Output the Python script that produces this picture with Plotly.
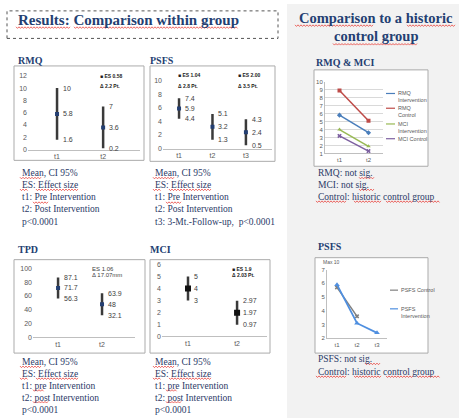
import plotly.graph_objects as go

W, H = 459, 420
def fx(x): return x / W
def fy(y): return 1 - y / H

# ---------------- data ----------------
cats2 = ["t1", "t2"]
cats3 = ["t1", "t2", "t3"]
rmq_mean = [5.8, 3.6]; rmq_lo = [1.6, 0.2]; rmq_hi = [10, 7]
psfs_mean = [5.9, 3.2, 2.4]; psfs_lo = [4.4, 1.3, 0.5]; psfs_hi = [7.4, 5.1, 4.3]
tpd_mean = [71.7, 48]; tpd_lo = [56.3, 32.1]; tpd_hi = [87.1, 63.9]
mci_mean = [4, 1.97]; mci_lo = [3, 0.97]; mci_hi = [5, 2.97]

hist_rmq_int = [5.8, 3.6]
hist_rmq_ctrl = [8.9, 5.1]
hist_mci_int = [4.0, 1.9]
hist_mci_ctrl = [3.2, 1.3]
hist_psfs_ctrl = [5.7, 3.6]
hist_psfs_int = [5.9, 3.1, 2.4]

NAVY = "#243F72"
TXT = "#2B3A67"
TICK = "#595959"
SERIF = "Liberation Serif"
SANS = "Liberation Sans"

fig = go.Figure()
shapes = []
ann = []

def label(x, y, text, size=9.5, color=TXT, bold=False, family=SERIF, anchor="left"):
    t = f"<b>{text}</b>" if bold else text
    ann.append(dict(x=fx(x), y=fy(y), xref="paper", yref="paper", text=t, showarrow=False,
                    xanchor=anchor, yanchor="middle", font=dict(family=family, size=size, color=color)))

def box(x0, y0, x1, y1, fill="white", line="#ABABAB", dash="solid", width=1):
    shapes.append(dict(type="rect", xref="paper", yref="paper", x0=fx(x0), x1=fx(x1), y0=fy(y1), y1=fy(y0),
                       fillcolor=fill, line=dict(color=line, width=width, dash=dash), layer="below"))

def squiggle(x0, x1, y):
    pts = []
    x, k = x0, 0
    while x <= x1:
        pts.append(f"{fx(x):.5f},{fy(y + (0.8 if k % 2 else -0.8)):.5f}")
        x += 1.5
        k += 1
    shapes.append(dict(type="path", xref="paper", yref="paper", path="M" + " L".join(pts),
                       line=dict(color="#E8403A", width=0.8)))

# background panel
box(287, 0, 460, 421, fill="#F2F2F2", line="rgba(0,0,0,0)", width=0)
# chart boxes
box(14, 63, 144, 159)
box(150, 63, 275, 160)
box(14, 260, 145, 355)
box(150, 260, 270, 355)
box(314, 67, 428, 165)
box(315, 258, 428, 355)
# title box
box(7, 7, 278, 35, fill="rgba(0,0,0,0)", line="#555555", dash="dot")

layout_axes = {}
def axes(n, xd, ytop, ybot, xr, yr, dtick, cats, tsize=7, grid=False, yline=False):
    s = "" if n == 1 else str(n)
    layout_axes["xaxis" + s] = dict(domain=[fx(xd[0]), fx(xd[1])], range=xr, anchor="y" + s, type="category",
                                    categoryorder="array", categoryarray=cats, showline=True, linecolor="#BFBFBF",
                                    linewidth=1, ticks="", showgrid=False, zeroline=False,
                                    tickfont=dict(family=SANS, size=tsize, color=TICK), fixedrange=True)
    layout_axes["yaxis" + s] = dict(domain=[fy(ybot), fy(ytop)], range=yr, dtick=dtick, anchor="x" + s,
                                    showline=yline, linecolor="#BFBFBF", ticks="", showgrid=grid,
                                    gridcolor="#D9D9D9", gridwidth=1, zeroline=False,
                                    tickfont=dict(family=SANS, size=tsize, color=TICK), fixedrange=True)

def ci_chart(n, cats, mean, lo, hi, msize=4, mcolor=NAVY):
    s = "" if n == 1 else str(n)
    fig.add_trace(go.Scatter(x=cats, y=mean, mode="markers", xaxis="x" + s, yaxis="y" + s,
                             marker=dict(symbol="square", size=msize, color=mcolor),
                             error_y=dict(type="data", symmetric=False,
                                          array=[h - m for h, m in zip(hi, mean)],
                                          arrayminus=[m - l for m, l in zip(mean, lo)],
                                          color="#3A3A3A", thickness=2.5, width=0),
                             showlegend=False, hoverinfo="skip"))
    for c, m, l, h in zip(cats, mean, lo, hi):
        for v in (h, m, l):
            ann.append(dict(x=c, y=v, xref="x" + s, yref="y" + s, text=f"{v:g}", showarrow=False,
                            xanchor="left", yanchor="middle", xshift=4,
                            font=dict(family=SANS, size=7, color="#404040")))

# Chart 1 RMQ
axes(1, (28, 140), 73, 148, [-0.63, 1.8], [0, 12], 2, cats2)
ci_chart(1, cats2, rmq_mean, rmq_lo, rmq_hi)
# Chart 2 PSFS
axes(2, (163, 272), 78, 147, [-0.48, 2.78], [0, 10], 2, cats3)
ci_chart(2, cats3, psfs_mean, psfs_lo, psfs_hi)
# Chart 3 TPD
axes(3, (33, 135), 269, 339, [-0.57, 1.75], [0, 100], 20, cats2)
ci_chart(3, cats2, tpd_mean, tpd_lo, tpd_hi)
# Chart 4 MCI
axes(4, (162, 267), 265, 338, [-0.53, 1.61], [0, 6], 1, cats2)
ci_chart(4, cats2, mci_mean, mci_lo, mci_hi, msize=6, mcolor="#111111")

# Chart 5 RMQ & MCI vs historic control
axes(5, (325, 383), 79, 152, [-0.5, 1.5], [1, 10], 1, cats2, tsize=6, grid=True, yline=True)
hist_series = [
    ("RMQ Intervention", hist_rmq_int, "#4A7EBB", "diamond"),
    ("RMQ Control", hist_rmq_ctrl, "#BE4B48", "square"),
    ("MCI Intervention", hist_mci_int, "#98B954", "triangle-up"),
    ("MCI Control", hist_mci_ctrl, "#7D60A0", "x"),
]
for name, vals, col, sym in hist_series:
    fig.add_trace(go.Scatter(x=cats2, y=vals, mode="lines+markers", xaxis="x5", yaxis="y5", name=name,
                             line=dict(color=col, width=1.5), marker=dict(symbol=sym, size=4, color=col),
                             showlegend=False, hoverinfo="skip"))
# Chart 6 PSFS vs historic control
axes(6, (327, 387), 270, 340, [-0.5, 2.5], [2, 7], 1, cats3, tsize=6, yline=True)
fig.add_trace(go.Scatter(x=cats3[:2], y=hist_psfs_ctrl, mode="lines+markers", xaxis="x6", yaxis="y6",
                         line=dict(color="#7F7F7F", width=1.5), marker=dict(symbol="x", size=4, color="#7F7F7F"),
                         showlegend=False, hoverinfo="skip"))
fig.add_trace(go.Scatter(x=cats3, y=hist_psfs_int, mode="lines+markers", xaxis="x6", yaxis="y6",
                         line=dict(color="#4F8FE0", width=1.8), marker=dict(symbol="triangle-up", size=5, color="#4F8FE0"),
                         showlegend=False, hoverinfo="skip"))

# manual legends
def leg_line(x0, x1, y, col):
    shapes.append(dict(type="line", xref="paper", yref="paper", x0=fx(x0), x1=fx(x1), y0=fy(y), y1=fy(y),
                       line=dict(color=col, width=1.2)))
leg5 = [("RMQ", "Intervention", 91), ("RMQ", "Control", 106), ("MCI", "Intervention", 122), ("MCI Control", None, 137)]
for (a, b, y), (_, _, col, _) in zip(leg5, hist_series):
    leg_line(386, 395, y, col)
    label(396, y, a, size=5.5, color=TICK, family=SANS)
    if b:
        label(396, y + 7, b, size=5.5, color=TICK, family=SANS)
leg_line(390, 398, 291, "#7F7F7F")
label(399, 291, "PSFS Control", size=5.5, color=TICK, family=SANS)
leg_line(390, 398, 310, "#4F8FE0")
label(399, 310, "PSFS", size=5.5, color=TICK, family=SANS)
label(399, 317, "Intervention", size=5.5, color=TICK, family=SANS)
label(321, 262, "Max 10", size=5, color=TICK, family=SANS)

# ES annotations
label(98, 73, "■ ES 0.58", size=5, color="#222222", bold=True, family=SANS)
label(98, 83, "Δ 2.2 Pt.", size=5, color="#222222", bold=True, family=SANS)
label(176, 72, "■ ES 1.04", size=5, color="#222222", bold=True, family=SANS)
label(176, 83, "Δ 2.8 Pt.", size=5, color="#222222", bold=True, family=SANS)
label(236, 72, "■ ES 2.00", size=5, color="#222222", bold=True, family=SANS)
label(236, 83, "Δ 3.5 Pt.", size=5, color="#222222", bold=True, family=SANS)
label(90, 269, "ES 1.06", size=6, color="#404040", family=SANS)
label(90, 276, "Δ 17.07mm", size=6, color="#404040", family=SANS)
label(230, 269, "■ ES 1.9", size=5, color="#222222", bold=True, family=SANS)
label(230, 276, "Δ 2.03 Pt.", size=5, color="#222222", bold=True, family=SANS)

# titles
label(16, 16, "Results: Comparison within group", size=15, color=NAVY, bold=True)
label(376, 14, "Comparison to a historic", size=14.5, color=NAVY, bold=True, anchor="center")
label(376, 33, "control group", size=14.5, color=NAVY, bold=True, anchor="center")
label(16, 57, "RMQ", size=10, color=NAVY, bold=True)
label(148, 57, "PSFS", size=10, color=NAVY, bold=True)
label(16, 250, "TPD", size=10, color=NAVY, bold=True)
label(148, 250, "MCI", size=10, color=NAVY, bold=True)
label(314, 59, "RMQ & MCI", size=10, color=NAVY, bold=True)
label(316, 247, "PSFS", size=10, color=NAVY, bold=True)

# body text
col1 = ["Mean, CI 95%", "ES: Effect size", "t1: Pre Intervention", "t2: Post Intervention", "p<0.0001"]
col2 = ["Mean, CI 95%", "ES: Effect size", "t1: Pre Intervention", "t2: Post Intervention", "t3: 3-Mt.-Follow-up,  p<0.0001"]
col3 = ["Mean, CI 95%", "ES: Effect size", "t1: pre Intervention", "t2: post Intervention", "p<0.0001"]
for i, t in enumerate(col1):
    label(20, 172 + 12.3 * i, t)
for i, t in enumerate(col2):
    label(153, 172 + 12.3 * i, t)
for i, t in enumerate(col3):
    label(20, 364 + 12.2 * i, t)
    label(153, 364 + 12.2 * i, t)
for i, t in enumerate(["RMQ: not sig.", "MCI: not sig.", "Control: historic control group"]):
    label(316, 172 + 12 * i, t)
for i, t in enumerate(["PSFS: not sig.", "Control: historic control group"]):
    label(316, 361 + 13 * i, t)

# spell-check underlines seen in the slide
squiggle(16, 70, 24); squiggle(74, 238, 24)
squiggle(295, 373, 22); squiggle(407, 456, 22)
squiggle(333, 418, 41)
for dx in (0, 133):
    squiggle(20 + dx, 42 + dx, 177)
    squiggle(20 + dx, 28 + dx, 189); squiggle(36 + dx, 78 + dx, 189)
    squiggle(33 + dx, 48 + dx, 202)
    squiggle(20 + dx, 42 + dx, 369)
    squiggle(20 + dx, 28 + dx, 381); squiggle(36 + dx, 78 + dx, 381)
    squiggle(33 + dx, 44 + dx, 393)
    squiggle(33 + dx, 48 + dx, 405)
squiggle(359, 375, 177); squiggle(359, 375, 189)
for y in (201, 379):
    squiggle(316, 347, y); squiggle(354, 381, y); squiggle(386, 414, y); squiggle(417, 440, y)
squiggle(365, 380, 366)

fig.update_layout(width=W, height=H, margin=dict(l=0, r=0, t=0, b=0), paper_bgcolor="white",
                  plot_bgcolor="white", shapes=shapes, annotations=ann, showlegend=False, **layout_axes)
fig.write_html("out.html", config={"displayModeBar": False},
               post_script="document.body.style.margin='0';document.body.style.padding='0';")
